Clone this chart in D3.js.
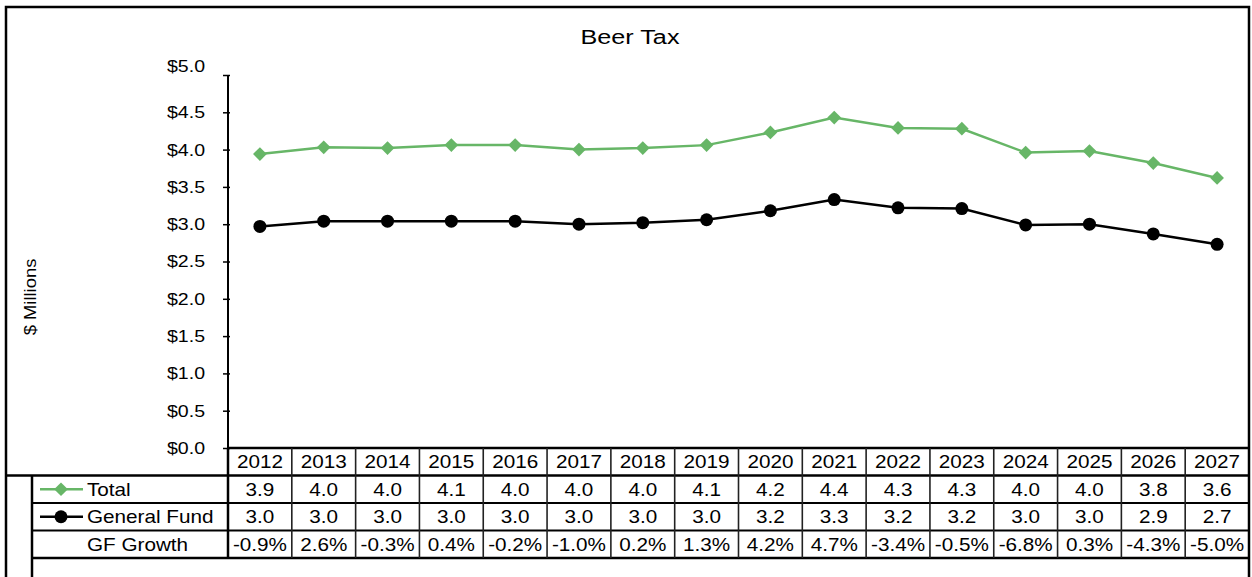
<!DOCTYPE html>
<html>
<head>
<meta charset="utf-8">
<script src="https://cdn.jsdelivr.net/npm/d3@7"></script>
<style>
  html, body { margin: 0; padding: 0; background: #fff; }
  svg { display: block; font-family: "Liberation Sans", Arial, sans-serif; }
</style>
</head>
<body>
<svg id="chart" width="1252" height="577"></svg>
<script>
// ---- Data ----
const years = ["2012","2013","2014","2015","2016","2017","2018","2019","2020","2021","2022","2023","2024","2025","2026","2027"];
const totalValues = [3.94, 4.03, 4.02, 4.06, 4.06, 4.00, 4.02, 4.06, 4.23, 4.43, 4.29, 4.28, 3.96, 3.98, 3.82, 3.62];
const gfValues = [2.97, 3.04, 3.04, 3.04, 3.04, 3.00, 3.02, 3.06, 3.18, 3.33, 3.22, 3.21, 2.99, 3.00, 2.87, 2.73];
const totalLabels = ["3.9","4.0","4.0","4.1","4.0","4.0","4.0","4.1","4.2","4.4","4.3","4.3","4.0","4.0","3.8","3.6"];
const gfLabels = ["3.0","3.0","3.0","3.0","3.0","3.0","3.0","3.0","3.2","3.3","3.2","3.2","3.0","3.0","2.9","2.7"];
const growthLabels = ["-0.9%","2.6%","-0.3%","0.4%","-0.2%","-1.0%","0.2%","1.3%","4.2%","4.7%","-3.4%","-0.5%","-6.8%","0.3%","-4.3%","-5.0%"];
const yTicks = [0, 0.5, 1.0, 1.5, 2.0, 2.5, 3.0, 3.5, 4.0, 4.5, 5.0];
const rowNames = ["Total", "General Fund", "GF Growth"];
const title = "Beer Tax";
const yLabel = "$ Millions";

// ---- Layout ----
const svg = d3.select("#chart");
const W = 1252, H = 577;
const frameL = 6, frameT = 7, frameR = 1249;
const plotL = 228, plotR = 1249, plotT = 75, plotB = 448;
const rowH = 27.5;
const greenColor = "#67b667";
const SX = 1.15; // horizontal text stretch seen in the reference

const x = d3.scaleBand().domain(years).range([plotL, plotR]);
const y = d3.scaleLinear().domain([0, 5]).range([plotB, plotT]);

function sText(parent, tx, ty, str, size, anchor, sx) {
  return parent.append("text")
    .attr("transform", `translate(${tx},${ty}) scale(${sx || SX},1)`)
    .attr("text-anchor", anchor || "start")
    .attr("font-size", size).attr("fill", "#000").text(str);
}

// Outer frame
svg.append("path")
  .attr("d", `M${frameL},${H} V${frameT} H${frameR} V${H}`)
  .attr("fill", "none").attr("stroke", "#000").attr("stroke-width", 2.5);

// Title
sText(svg, 630, 44, title, 21, "middle", 1.2);

// Y axis label
svg.append("text").attr("transform", `translate(36,297) rotate(-90) scale(${SX},1)`)
  .attr("text-anchor", "middle").attr("font-size", 16).text(yLabel);

// Y axis
const yAxis = d3.axisLeft(y).tickValues(yTicks).tickSize(5).tickPadding(18)
  .tickFormat(d => "$" + d3.format(".1f")(d));
const gy = svg.append("g").attr("transform", `translate(${plotL},0)`).call(yAxis);
gy.select(".domain").attr("stroke", "#000").attr("stroke-width", 2)
  .attr("d", `M0,${plotT}V${plotB}`);
gy.selectAll(".tick line").attr("stroke", "#000").attr("stroke-width", 1.5)
  .attr("x1", 2).attr("x2", -5);
gy.selectAll(".tick text").each(function(d) {
  const t = d3.select(this);
  const tx = +t.attr("x");
  const off = d === 5 ? -9 : 0;
  t.attr("x", 0)
   .attr("transform", `translate(${tx},${off}) scale(${SX},1)`)
   .attr("font-size", 17).attr("fill", "#000")
   .attr("font-family", "Liberation Sans, Arial, sans-serif");
});

// Lines
const line = (vals) => d3.line()
  .x((d, i) => x(years[i]) + x.bandwidth() / 2)
  .y(d => y(d))(vals);

svg.append("path").attr("d", line(totalValues)).attr("fill", "none")
  .attr("stroke", greenColor).attr("stroke-width", 2.5);
svg.append("path").attr("d", line(gfValues)).attr("fill", "none")
  .attr("stroke", "#000").attr("stroke-width", 2.5);

const diamond = d3.symbol().type(d3.symbolDiamond2).size(120);
svg.append("g").selectAll("path").data(totalValues).join("path")
  .attr("d", diamond)
  .attr("transform", (d, i) => `translate(${x(years[i]) + x.bandwidth() / 2},${y(d)})`)
  .attr("fill", greenColor);
svg.append("g").selectAll("circle").data(gfValues).join("circle")
  .attr("cx", (d, i) => x(years[i]) + x.bandwidth() / 2)
  .attr("cy", d => y(d)).attr("r", 6.5).attr("fill", "#000");

// ---- Data table ----
const tbl = svg.append("g");
const headT = plotB, r1 = headT + rowH, r2 = r1 + rowH, r3 = r2 + rowH, r4 = r3 + rowH;
const legL = 32;

tbl.append("line").attr("x1", plotL).attr("x2", plotR).attr("y1", headT).attr("y2", headT)
  .attr("stroke", "#000").attr("stroke-width", 2.5);
tbl.append("line").attr("x1", frameL).attr("x2", plotR).attr("y1", r1).attr("y2", r1)
  .attr("stroke", "#000").attr("stroke-width", 2.5);
[r2, r3].forEach(yy => tbl.append("line").attr("x1", legL).attr("x2", plotR)
  .attr("y1", yy).attr("y2", yy).attr("stroke", "#000").attr("stroke-width", 2));
tbl.append("line").attr("x1", legL).attr("x2", plotR).attr("y1", r4).attr("y2", r4)
  .attr("stroke", "#000").attr("stroke-width", 2.5);
tbl.append("line").attr("x1", legL).attr("x2", legL).attr("y1", r1).attr("y2", H)
  .attr("stroke", "#000").attr("stroke-width", 2.5);
tbl.append("line").attr("x1", plotL).attr("x2", plotL).attr("y1", headT).attr("y2", r4)
  .attr("stroke", "#000").attr("stroke-width", 2.5);
years.forEach((yr, i) => {
  if (i === 0) return;
  tbl.append("line").attr("x1", x(yr)).attr("x2", x(yr)).attr("y1", headT).attr("y2", r4)
    .attr("stroke", "#222").attr("stroke-width", 1.6);
});

const cellText = (labels, rowTop) => {
  labels.forEach((d, i) => {
    sText(tbl, x(years[i]) + x.bandwidth() / 2, rowTop + rowH / 2 + 6.5, d, 18, "middle");
  });
};
cellText(years, headT);
cellText(totalLabels, r1);
cellText(gfLabels, r2);
cellText(growthLabels, r3);

// legend cells
const legX1 = 40, legX2 = 83, legMid = 61, textX = 87;
tbl.append("line").attr("x1", legX1).attr("x2", legX2).attr("y1", r1 + rowH / 2).attr("y2", r1 + rowH / 2)
  .attr("stroke", greenColor).attr("stroke-width", 2.5);
tbl.append("path").attr("d", diamond).attr("transform", `translate(${legMid},${r1 + rowH / 2})`)
  .attr("fill", greenColor);
tbl.append("line").attr("x1", legX1).attr("x2", legX2).attr("y1", r2 + rowH / 2).attr("y2", r2 + rowH / 2)
  .attr("stroke", "#000").attr("stroke-width", 2.5);
tbl.append("circle").attr("cx", legMid).attr("cy", r2 + rowH / 2).attr("r", 6.5).attr("fill", "#000");

[r1, r2, r3].forEach((rt, i) => {
  sText(tbl, textX, rt + rowH / 2 + 6.5, rowNames[i], 18, "start");
});
</script>
</body>
</html>
